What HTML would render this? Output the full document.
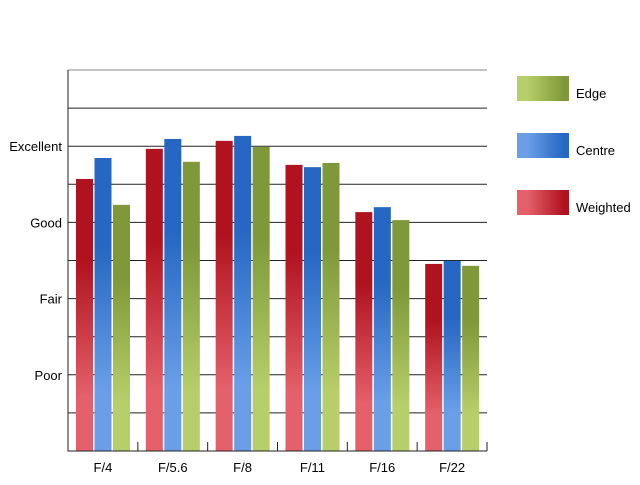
<!DOCTYPE html>
<html><head><meta charset="utf-8"><style>
body{margin:0;background:#fff;}
svg text{font-family:"Liberation Sans",sans-serif;font-size:13px;fill:#000;}
</style></head><body>
<svg width="640" height="480">
<defs>
<linearGradient id="gr" x1="0" y1="0" x2="0" y2="1"><stop offset="0.3" stop-color="#b0121e"/><stop offset="0.8" stop-color="#e4606a"/></linearGradient>
<linearGradient id="gb" x1="0" y1="0" x2="0" y2="1"><stop offset="0.3" stop-color="#2567c2"/><stop offset="0.8" stop-color="#6a9fe8"/></linearGradient>
<linearGradient id="gg" x1="0" y1="0" x2="0" y2="1"><stop offset="0.3" stop-color="#7f993a"/><stop offset="0.8" stop-color="#b7cf6a"/></linearGradient>
<linearGradient id="lr" x1="0" y1="0" x2="1" y2="0"><stop offset="0.2" stop-color="#e4606a"/><stop offset="0.9" stop-color="#b0121e"/></linearGradient>
<linearGradient id="lb" x1="0" y1="0" x2="1" y2="0"><stop offset="0.2" stop-color="#6a9fe8"/><stop offset="0.9" stop-color="#2567c2"/></linearGradient>
<linearGradient id="lg" x1="0" y1="0" x2="1" y2="0"><stop offset="0.2" stop-color="#b7cf6a"/><stop offset="0.9" stop-color="#7f993a"/></linearGradient>
</defs>
<g id="grid"></g><g id="bars"></g><g id="axes"></g>
<g>
<rect x="517" y="76" width="52" height="25" fill="url(#lg)"/>
<text x="576" y="98">Edge</text>
<rect x="517" y="133" width="52" height="25" fill="url(#lb)"/>
<text x="576" y="155">Centre</text>
<rect x="517" y="190" width="52" height="25" fill="url(#lr)"/>
<text x="576" y="212">Weighted</text>
</g>
</svg>
<script>
const categories=["F/4","F/5.6","F/8","F/11","F/16","F/22"];
const weighted=[7.14,7.93,8.14,7.51,6.27,4.91];
const centre=[7.69,8.19,8.27,7.45,6.40,4.99];
const edge=[6.46,7.59,7.98,7.56,6.06,4.86];
const yTickLabels=["Poor","Fair","Good","Excellent"];
const yTickValues=[2,4,6,8];
const NS="http://www.w3.org/2000/svg";
const L=68,R=487,T=70,B=451,YMAX=10;
const y=v=>B-(v/YMAX)*(B-T);
const gw=(R-L)/categories.length;
function mk(tag,attrs,parent){const e=document.createElementNS(NS,tag);for(const k in attrs)e.setAttribute(k,attrs[k]);document.getElementById(parent).appendChild(e);return e;}
for(let i=1;i<=YMAX;i++){
 const g=mk("line",{x1:L,x2:R,y1:y(i),y2:y(i),stroke:i==YMAX?"#888":"#222","stroke-width":1},"grid");
 
 
}
const series=[[weighted,"url(#gr)","weighted"],[centre,"url(#gb)","centre"],[edge,"url(#gg)","edge"]];
categories.forEach((c,i)=>{
 const x0=L+i*gw;
 series.forEach((s,j)=>{
  const v=s[0][i];
  const r=mk("rect",{x:x0+8+j*18.5,y:y(v),width:17,height:B-y(v),fill:s[1]},"bars");
  
  
 });
 const t=mk("text",{x:x0+gw/2,y:472,"text-anchor":"middle"},"axes");
 t.textContent=c;
 
 
 if(i>0){const tk=mk("line",{x1:x0,x2:x0,y1:442,y2:B,stroke:"#222"},"axes");
 
 }
});
const tkR=mk("line",{x1:R,x2:R,y1:442,y2:B,stroke:"#222"},"axes");


yTickValues.forEach((v,i)=>{
 const t=mk("text",{x:62,y:y(v)+5,"text-anchor":"end"},"axes");
 t.textContent=yTickLabels[i];
 
 
});
const ax=mk("path",{d:`M${L} ${T}V${B}H${R}`,stroke:"#222",fill:"none"},"axes");


</script>
</body></html>
